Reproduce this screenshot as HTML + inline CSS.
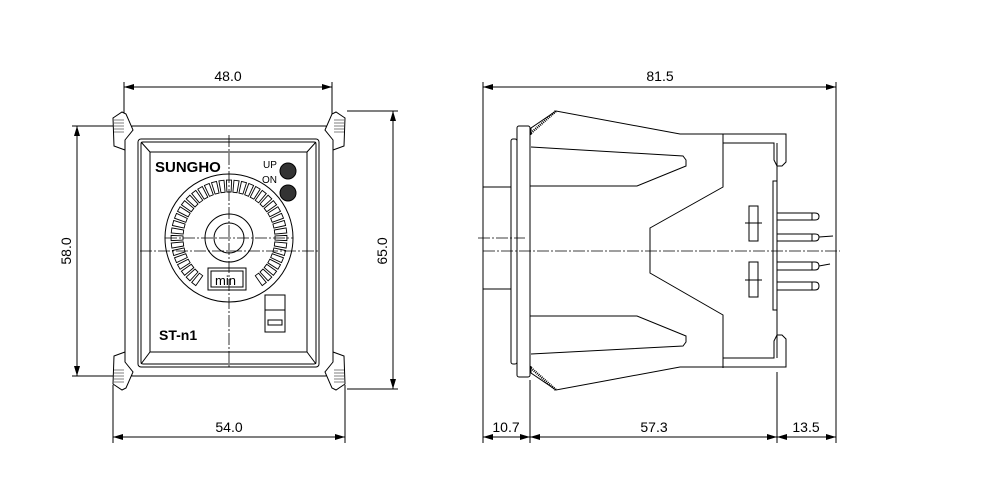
<!DOCTYPE html>
<html><head><meta charset="utf-8"><style>
html,body{margin:0;padding:0;background:#fff;width:1000px;height:500px;overflow:hidden}
svg{display:block}
text{font-family:"Liberation Sans",sans-serif;fill:#000}
</style></head><body>
<svg width="1000" height="500" viewBox="0 0 1000 500" xmlns="http://www.w3.org/2000/svg">
<defs>
<marker id="a" viewBox="0 0 10 6" refX="10" refY="3" markerWidth="10" markerHeight="6" orient="auto-start-reverse" markerUnits="userSpaceOnUse"><path d="M0,0 L10,3 L0,6z" fill="#000"/></marker>
</defs>
<g stroke="#000" stroke-width="1" fill="none">
<!-- ===== LEFT VIEW ===== -->
<!-- dimension 48.0 -->
<line x1="124" y1="87" x2="332" y2="87" marker-start="url(#a)" marker-end="url(#a)"/>
<line x1="124" y1="82" x2="124" y2="120"/><line x1="332" y1="82" x2="332" y2="120"/>
<!-- 54.0 -->
<line x1="113" y1="437" x2="345" y2="437" marker-start="url(#a)" marker-end="url(#a)"/>
<line x1="113" y1="385" x2="113" y2="443"/><line x1="345" y1="385" x2="345" y2="443"/>
<!-- 58.0 -->
<line x1="77" y1="126" x2="77" y2="376" marker-start="url(#a)" marker-end="url(#a)"/>
<line x1="72" y1="126" x2="125" y2="126"/><line x1="72" y1="376" x2="125" y2="376"/>
<!-- 65.0 -->
<line x1="393" y1="111" x2="393" y2="389" marker-start="url(#a)" marker-end="url(#a)"/>
<line x1="347" y1="111" x2="398" y2="111"/><line x1="347" y1="389" x2="398" y2="389"/>

<!-- body -->
<rect x="125" y="126" width="208" height="250" rx="8"/>
<rect x="138" y="139" width="181" height="228" rx="3"/>
<rect x="141" y="142" width="175" height="222" rx="2"/>
<rect x="150" y="152" width="157" height="200"/>
<line x1="141" y1="142" x2="150" y2="152"/><line x1="316" y1="142" x2="307" y2="152"/>
<line x1="141" y1="364" x2="150" y2="352"/><line x1="316" y1="364" x2="307" y2="352"/>
<!-- corner clips -->
<g fill="#fff">
<path d="M113,118 L122,112 L126,114 L133,130 L125,140 L125,150 L114,146 Z"/>
<path d="M345,118 L336,112 L332,114 L325,130 L333,140 L333,150 L344,146 Z"/>
<path d="M113,384 L122,390 L126,388 L133,372 L125,362 L125,352 L114,356 Z"/>
<path d="M345,384 L336,390 L332,388 L325,372 L333,362 L333,352 L344,356 Z"/>
</g>
<g stroke-width="0.6">
<path d="M114,120h10M114,123h10M114,126h10M114,129h10M114,132h10"/>
<path d="M334,120h10M334,123h10M334,126h10M334,129h10M334,132h10"/>
<path d="M114,370h10M114,373h10M114,376h10M114,379h10M114,382h10"/>
<path d="M334,370h10M334,373h10M334,376h10M334,379h10M334,382h10"/>
</g>
<!-- dial -->
<circle cx="229" cy="238" r="64"/>
<circle cx="229" cy="238" r="24"/>
<circle cx="229" cy="238" r="15"/>
<g id="ticks" stroke-width="0.9"></g>
<rect x="208" y="268" width="38" height="22" fill="#fff"/>
<rect x="211" y="271" width="32" height="16"/>
<!-- switch -->
<rect x="265" y="295" width="20" height="37"/>
<line x1="265" y1="310" x2="285" y2="310"/>
<rect x="268" y="320" width="14" height="5"/>
<!-- center lines -->
<g stroke-dasharray="12,2,2,2" stroke-width="0.8">
<line x1="229" y1="135" x2="229" y2="368"/>
<line x1="140" y1="251" x2="318" y2="251"/>
<line x1="165" y1="238" x2="293" y2="238"/>
</g>

<!-- ===== RIGHT VIEW ===== -->
<line x1="483" y1="87" x2="836" y2="87" marker-start="url(#a)" marker-end="url(#a)"/>
<line x1="483" y1="82" x2="483" y2="443"/><line x1="836" y1="82" x2="836" y2="443"/>
<line x1="483" y1="437" x2="530" y2="437" marker-start="url(#a)" marker-end="url(#a)"/>
<line x1="530" y1="437" x2="777" y2="437" marker-start="url(#a)" marker-end="url(#a)"/>
<line x1="777" y1="437" x2="836" y2="437" marker-start="url(#a)" marker-end="url(#a)"/>
<line x1="530" y1="380" x2="530" y2="443"/><line x1="777" y1="372" x2="777" y2="443"/>

<!-- flange -->
<rect x="517" y="126" width="13" height="251" rx="2"/>
<rect x="511" y="139" width="6" height="225" rx="2"/>
<rect x="483" y="187" width="28" height="102"/>
<!-- upper clip -->
<path d="M531,135 L531,128 L556,111 L680,134 L786,134 L786,162 L782,166 L777,166 L774,160 L774,143 L723,143"/>
<path d="M723,134 L723,187 L650,228 L650,273 L723,315 L723,368"/>
<path d="M531,147 L683,156 L686,160 L686,166 L637,186 L530,186"/>
<path d="M531,133 L556,111" stroke-width="2.5" stroke-dasharray="1,1"/>
<!-- lower clip -->
<path d="M531,366 L531,373 L556,390 L680,367 L786,367 L786,339 L782,335 L777,335 L774,341 L774,358 L723,358"/>
<path d="M531,354 L683,346 L686,342 L686,336 L637,316 L530,316"/>
<path d="M531,368 L556,390" stroke-width="2.5" stroke-dasharray="1,1"/>
<line x1="777" y1="143" x2="777" y2="358"/>
<rect x="773" y="181" width="4" height="129"/>
<!-- rectangles -->
<rect x="749" y="206" width="9" height="35"/>
<rect x="749" y="262" width="9" height="35"/>
<line x1="745" y1="223" x2="762" y2="223"/><line x1="745" y1="280" x2="762" y2="280"/>
<!-- pins -->
<path d="M777,213 H815 Q819,213 819,216.5 Q819,220 815,220 H777"/>
<path d="M777,234 H815 Q819,234 819,237 Q819,241 815,241 H777"/>
<path d="M777,262 H815 Q819,262 819,266 Q819,270 815,270 H777"/>
<path d="M777,282 H815 Q819,282 819,286 Q819,290 815,290 H777"/>
<line x1="812" y1="213" x2="812" y2="220"/><line x1="812" y1="234" x2="812" y2="241"/>
<line x1="812" y1="262" x2="812" y2="270"/><line x1="812" y1="282" x2="812" y2="290"/>
<line x1="819" y1="237" x2="833" y2="236"/><line x1="819" y1="266" x2="830" y2="264"/>
<g stroke-dasharray="12,2,2,2" stroke-width="0.8">
<line x1="483" y1="251" x2="840" y2="251"/>
<line x1="478" y1="238" x2="525" y2="238"/>
</g>
</g>
<!-- LEDs -->
<circle cx="288" cy="171" r="8" fill="#333" stroke="#000"/>
<circle cx="288" cy="193" r="8" fill="#333" stroke="#000"/>
<!-- text -->
<text x="155" y="172" font-size="15" font-weight="bold" transform="scale(1,1)">SUNGHO</text>
<text x="263" y="168" font-size="10">UP</text>
<text x="262" y="183" font-size="10">ON</text>
<text x="215" y="285" font-size="13">min</text>
<text x="159" y="340" font-size="14" font-weight="bold">ST-n1</text>
<g font-size="14">
<text x="228" y="81" text-anchor="middle">48.0</text>
<text x="229" y="432" text-anchor="middle">54.0</text>
<text x="660" y="81" text-anchor="middle">81.5</text>
<text x="506" y="432" text-anchor="middle">10.7</text>
<text x="654" y="432" text-anchor="middle">57.3</text>
<text x="806" y="432" text-anchor="middle">13.5</text>
<text transform="translate(71,251) rotate(-90)" text-anchor="middle">58.0</text>
<text transform="translate(387,251) rotate(-90)" text-anchor="middle">65.0</text>
</g>
</svg>
<script>
(function(){
var g=document.getElementById('ticks'),ns='http://www.w3.org/2000/svg',cx=229,cy=238;
for(var i=0;i<48;i++){
 var a=-Math.PI/2+i*2*Math.PI/48;
 if(Math.abs(a-Math.PI/2)<0.6) continue;
 var w=0.045,r1=46,r2=58;
 var pts=[[r1,a-w],[r2,a-w],[r2,a+w],[r1,a+w]].map(function(p){return (cx+p[0]*Math.cos(p[1])).toFixed(1)+','+(cy+p[0]*Math.sin(p[1])).toFixed(1)}).join(' ');
 var pg=document.createElementNS(ns,'polygon');pg.setAttribute('points',pts);g.appendChild(pg);
}
})();
</script>
</body></html>
